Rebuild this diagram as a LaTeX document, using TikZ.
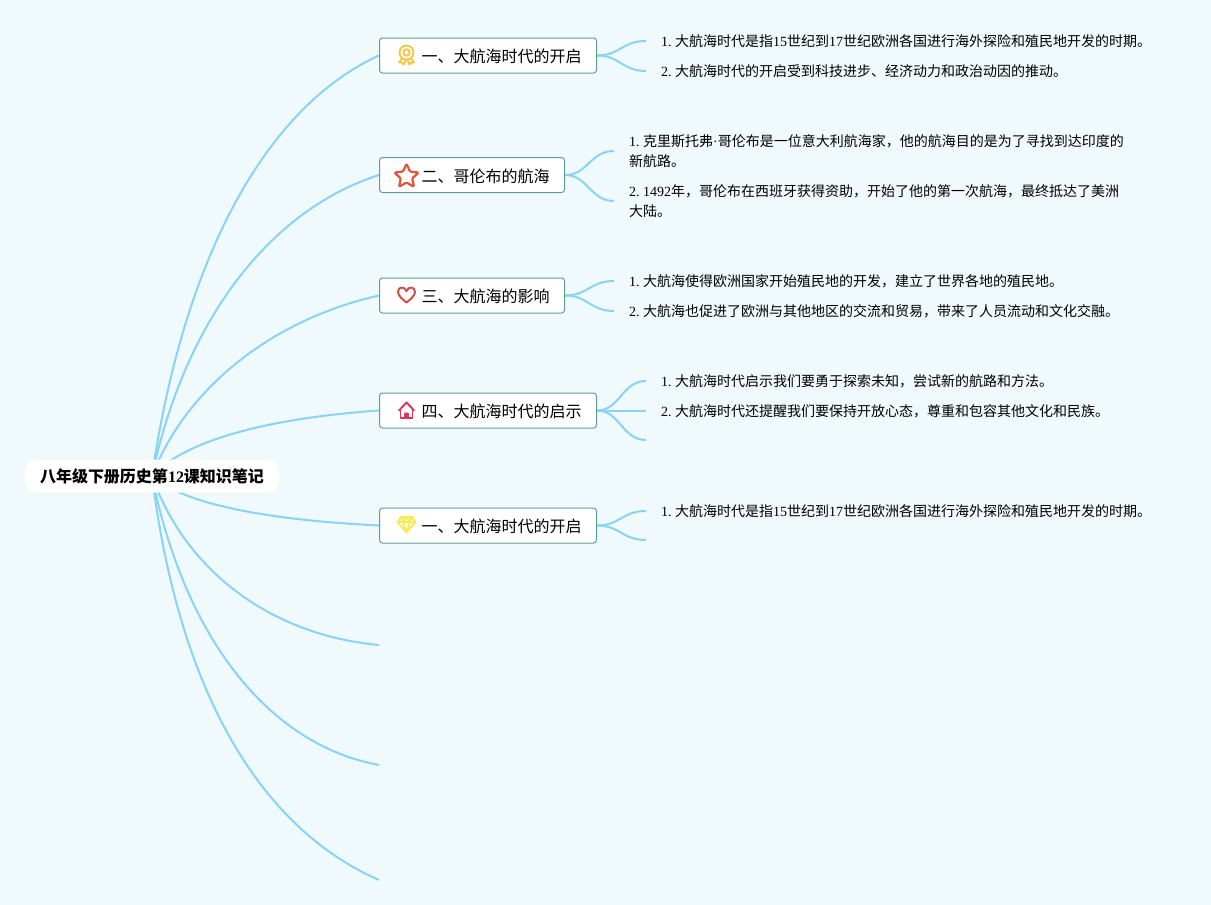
\documentclass[tikz,border=0pt]{standalone}
\usepackage{fontspec}
\setmainfont{Noto Sans CJK SC}
\newfontfamily\lat{Liberation Serif}
\newcommand\LL[1]{{\lat #1}}
\newcommand\boxtext[2]{\makebox[#1][l]{\hspace{42pt}\raisebox{-1pt}[\height][\depth]{#2}}}
\definecolor{pagebg}{HTML}{F0F9FC}
\definecolor{linkblue}{HTML}{87D4F8}
\definecolor{boxedge}{HTML}{5F9F97}
\definecolor{medalcol}{HTML}{F5C546}
\definecolor{starcol}{HTML}{E5533D}
\definecolor{heartcol}{HTML}{D14F45}
\definecolor{housecol}{HTML}{DC3359}
\definecolor{gemcol}{HTML}{F8EA50}
\pgfdeclarelayer{bglayer}
\pgfdeclarelayer{edgelayer}
\pgfsetlayers{bglayer,edgelayer,main}
\tikzset{
  rootnode/.style={fill=white,rounded corners=12pt,minimum width=254pt,minimum height=33pt,inner sep=0pt,font=\fontsize{16}{20}\selectfont\bfseries},
  topic/.style={anchor=west,draw=boxedge,fill=white,line width=1pt,rounded corners=3pt,minimum height=35pt,inner sep=0pt,font=\fontsize{16}{20}\selectfont},
  note/.style={anchor=west,inner ysep=0pt,inner xsep=15pt,align=left,font=\fontsize{14}{20}\selectfont\frenchspacing},
  link/.style={draw=linkblue,line width=2pt},
  iconline/.style={line width=1.9pt,line join=round,line cap=round}
}
\begin{document}
\begin{tikzpicture}[x=1pt,y=-1pt]
\useasboundingbox (0,0) rectangle (1211,905);
\begin{pgfonlayer}{bglayer}
\fill[pagebg] (0,0) rectangle (1211,905);
\end{pgfonlayer}

\node[rootnode] (root) at (152,476) {八年级下册历史第{\lat\bfseries 12}课知识笔记};

\node[topic] (b1) at (379,55.5) {\boxtext{217pt}{一、大航海时代的开启}};
\node[topic] (b2) at (379,175) {\boxtext{185pt}{二、哥伦布的航海}};
\node[topic] (b3) at (379,295.5) {\boxtext{185pt}{三、大航海的影响}};
\node[topic] (b4) at (379,410.5) {\boxtext{217pt}{四、大航海时代的启示}};
\node[topic] (b5) at (379,525.5) {\boxtext{217pt}{一、大航海时代的开启}};

\coordinate (e6) at (379,645);
\coordinate (e7) at (379,765);
\coordinate (e8) at (379,880);
\coordinate (e43) at (646,440);
\coordinate (e52) at (646,540);

\node[note] (c11) at (646,41) {\LL{1. }大航海时代是指\LL{15}世纪到\LL{17}世纪欧洲各国进行海外探险和殖民地开发的时期。};
\node[note] (c12) at (646,71) {\LL{2. }大航海时代的开启受到科技进步、经济动力和政治动因的推动。};
\node[note] (c21) at (614,151) {\LL{1. }克里斯托弗\LL{·}哥伦布是一位意大利航海家，他的航海目的是为了寻找到达印度的\\新航路。};
\node[note] (c22) at (614,201) {\LL{2. 1492}年，哥伦布在西班牙获得资助，开始了他的第一次航海，最终抵达了美洲\\大陆。};
\node[note] (c31) at (614,281) {\LL{1. }大航海使得欧洲国家开始殖民地的开发，建立了世界各地的殖民地。};
\node[note] (c32) at (614,311) {\LL{2. }大航海也促进了欧洲与其他地区的交流和贸易，带来了人员流动和文化交融。};
\node[note] (c41) at (646,381) {\LL{1. }大航海时代启示我们要勇于探索未知，尝试新的航路和方法。};
\node[note] (c42) at (646,410.5) {\raisebox{-0.7pt}[\height][\depth]{\LL{2. }大航海时代还提醒我们要保持开放心态，尊重和包容其他文化和民族。}};
\node[note] (c51) at (646,511) {\LL{1. }大航海时代是指\LL{15}世纪到\LL{17}世纪欧洲各国进行海外探险和殖民地开发的时期。};

\begin{pgfonlayer}{edgelayer}
\draw[link] (root.center) .. controls (185,250) and (270,105) .. (b1.west);
\draw[link] (root.center) .. controls (185,320) and (270,210) .. (b2.west);
\draw[link] (root.center) .. controls (185,390) and (270,320) .. (b3.west);
\draw[link] (root.center) .. controls (185,440) and (270,418) .. (b4.west);
\draw[link] (root.center) .. controls (185,505) and (270,520) .. (b5.west);
\draw[link] (root.center) .. controls (185,570) and (270,635) .. (e6);
\draw[link] (root.center) .. controls (185,640) and (270,745) .. (e7);
\draw[link] (root.center) .. controls (180,700) and (265,830) .. (e8);

\draw[link] (b1.east) .. controls (620,55.5) and (622,41) .. (c11.west);
\draw[link] (b1.east) .. controls (620,55.5) and (622,71) .. (c12.west);
\draw[link] (b2.east) .. controls (588,175) and (590,151) .. (c21.west);
\draw[link] (b2.east) .. controls (588,175) and (590,201) .. (c22.west);
\draw[link] (b3.east) .. controls (588,295.5) and (590,281) .. (c31.west);
\draw[link] (b3.east) .. controls (588,295.5) and (590,311) .. (c32.west);
\draw[link] (b4.east) .. controls (620,410.5) and (622,381) .. (c41.west);
\draw[link] (b4.east) -- (c42.west);
\draw[link] (b4.east) .. controls (620,410.5) and (622,440) .. (e43);
\draw[link] (b5.east) .. controls (620,525.5) and (622,511) .. (c51.west);
\draw[link] (b5.east) .. controls (620,525.5) and (622,540) .. (e52);
\end{pgfonlayer}

% medal icon
\begin{scope}[shift={(406.5,52.5)},iconline,draw=medalcol]
\draw (0,0) circle (7);
\draw (0,0) circle (3.2);
\draw (-4.5,6) -- (-7.5,10) -- (-4.6,10) -- (-3,12) -- (-0.8,7.4);
\draw (4.5,6) -- (7.5,10) -- (4.6,10) -- (3,12) -- (0.8,7.4);
\end{scope}
% star icon
\begin{scope}[shift={(406.5,176.5)},iconline,line width=2.2pt,draw=starcol]
\draw[rounded corners=1.2pt] (-90:12.8) -- (-54:6) -- (-18:12.8) -- (18:6) -- (54:12.8) -- (90:6) -- (126:12.8) -- (162:6) -- (198:12.8) -- (234:6) -- cycle;
\end{scope}
% heart icon
\begin{scope}[shift={(406.5,295)},iconline,line width=2pt,draw=heartcol]
\draw (0,7.5) .. controls (-3,5) and (-8.5,1) .. (-8.5,-3) .. controls (-8.5,-8.5) and (-2,-9) .. (0,-4) .. controls (2,-9) and (8.5,-8.5) .. (8.5,-3) .. controls (8.5,1) and (3,5) .. (0,7.5) -- cycle;
\end{scope}
% house icon
\begin{scope}[shift={(406.5,410)},iconline,draw=housecol]
\draw (-7.5,0.5) -- (0,-7.5) -- (7.5,0.5);
\draw (-6,-1.5) -- (-6,8) -- (6,8) -- (6,-1.5);
\fill[housecol,rounded corners=1pt] (-2.4,8) rectangle (2.4,2.5);
\end{scope}
% diamond icon
\begin{scope}[shift={(406.5,524.5)},iconline,line width=1.8pt,draw=gemcol]
\draw (-5.5,-7.5) -- (5.5,-7.5) -- (9,-2.5) -- (0,8) -- (-9,-2.5) -- cycle;
\draw (-9,-2.5) -- (9,-2.5);
\draw (-5.5,-7.5) -- (-3.5,-2.5) -- (0,-7.5) -- (3.5,-2.5) -- (5.5,-7.5);
\draw (-3.5,-2.5) -- (0,8) -- (3.5,-2.5);
\end{scope}
\end{tikzpicture}
\end{document}
